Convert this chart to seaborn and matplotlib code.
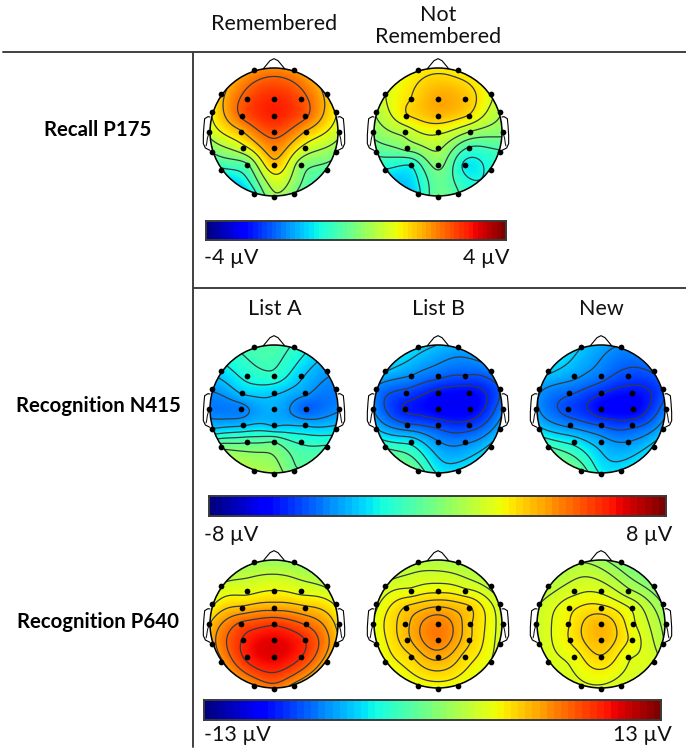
import numpy as np
import pandas as pd
import matplotlib
matplotlib.use("Agg")
import matplotlib.pyplot as plt
from matplotlib.patches import Circle
import seaborn as sns

# Electrode layout (x right, y down; head radius = 192)
ELEC_X = [-61, 61, -158, 158, -81, 0, 80, -185, 185, -95, 0, 94, -195, 195, -98, 0, 97,
          -185, 185, -94, 0, 94, -81, 0, 80, -158, 158, -61, 0, 61]
ELEC_Y = [-185, -185, -115, -115, -98, -98, -98, -60, -60, -49, -49, -49, 0, 0, 0, 0, 0,
          61, 61, 49, 49, 49, 98, 98, 98, 115, 115, 186, 196, 186]

# Microvolt values at the electrodes, same order
recall_rem = [2.0, 2.0, 1.6, 1.6, 2.6, 2.95, 2.6, 1.2, 1.2, 2.5, 3.0, 2.5, 0.7, 0.7, 1.7, 2.6, 1.7,
              -0.1, 0.1, 0.9, 2.1, 0.9, -0.2, 1.6, 0.2, -0.9, -0.4, -1.0, 0.3, -0.1]
recall_not = [1.2, 1.2, 0.9, 1.0, 1.4, 1.85, 1.65, 0.5, 0.5, 1.35, 1.7, 1.35, 0.1, 0.1, 0.6, 1.0, 0.4,
              -0.4, -0.6, 0.1, 0.5, -0.6, -0.95, 0.1, -1.1, -1.05, -0.9, -1.15, -0.2, -0.5]
n415_a = [-1.0, -1.5, -2.5, -3.5, -1.9, -1.6, -2.8, -3.6, -4.0, -2.8, -2.8, -3.5, -4.0, -3.8, -4.0, -3.2, -4.5,
          -2.8, -2.6, -3.0, -3.0, -3.0, -0.7, -0.6, -1.5, 0.0, -1.2, 1.0, 0.8, -0.4]
n415_b = [-2.5, -3.3, -2.8, -4.0, -3.8, -4.4, -4.7, -3.9, -4.6, -4.9, -5.8, -6.0, -3.7, -3.9, -5.6, -6.2, -6.2,
          -2.8, -3.2, -4.4, -4.9, -5.1, -2.3, -3.7, -3.9, -1.2, -2.6, -0.5, -2.0, -2.3]
n415_new = [-2.8, -3.8, -2.6, -4.4, -3.5, -4.2, -4.9, -3.5, -4.8, -4.4, -5.3, -5.8, -3.5, -4.0, -4.9, -6.0, -6.2,
            -2.6, -3.2, -3.9, -4.6, -4.8, -2.3, -3.3, -3.7, -1.0, -2.5, -0.5, -2.0, -2.3]
p640_a = [1.0, 0.8, 2.5, 2.0, 3.3, 3.8, 3.3, 3.5, 3.5, 5.4, 6.0, 5.4, 5.0, 4.5, 8.3, 9.2, 7.8,
          6.0, 5.5, 9.5, 10.6, 9.4, 9.8, 10.7, 9.5, 6.2, 5.7, 6.5, 7.0, 6.0]
p640_b = [1.8, 1.5, 2.6, 2.0, 3.5, 3.9, 3.5, 3.0, 2.6, 5.0, 5.8, 5.0, 3.2, 2.6, 5.4, 7.2, 5.0,
          3.2, 2.8, 5.4, 7.2, 5.0, 4.8, 6.0, 4.6, 3.4, 3.2, 3.4, 3.4, 3.4]
p640_new = [1.6, 0.2, 1.8, 0.2, 3.0, 3.1, 1.9, 2.4, 0.8, 3.8, 4.3, 3.1, 2.4, 1.2, 4.0, 5.6, 3.4,
            2.6, 1.8, 4.1, 5.5, 3.8, 3.6, 4.8, 3.4, 2.8, 2.8, 3.0, 3.0, 2.8]

row_labels = ["Recall P175", "Recognition N415", "Recognition P640"]
col_labels_recall = ["Remembered", "Not\nRemembered"]
col_labels_recog = ["List A", "List B", "New"]
scale_labels = [("-4 µV", "4 µV"), ("-8 µV", "8 µV"), ("-13 µV", "13 µV")]
scales = [4, 8, 13]

sns.set_theme(style="white")
plt.rcParams["font.family"] = ["Lato", "DejaVu Sans"]

W, H = 686, 751
fig = plt.figure(figsize=(W / 100, H / 100), dpi=100, facecolor="white")


def px_axes(x0, y0, x1, y1):
    return fig.add_axes([x0 / W, 1 - y1 / H, (x1 - x0) / W, (y1 - y0) / H])


def field(values):
    """Biharmonic spline through the electrodes, as topographic maps are drawn."""
    ex, ey, v = np.array(ELEC_X, float), np.array(ELEC_Y, float), np.array(values, float)
    g = np.linspace(-192, 192, 240)
    gx, gy = np.meshgrid(g, g)

    def green(r):
        out = np.zeros_like(r)
        m = r > 0
        out[m] = r[m] ** 2 * (np.log(r[m]) - 1)
        return out

    d = np.hypot(ex[:, None] - ex[None, :], ey[:, None] - ey[None, :])
    w = np.linalg.solve(green(d), v)
    dg = np.hypot(gx[..., None] - ex, gy[..., None] - ey)
    z = (green(dg) * w).sum(axis=-1)
    return g, np.ma.masked_where(np.hypot(gx, gy) > 192, z)


def topo(cx, cy, values, vmax):
    half = 85
    ax = px_axes(cx - half, cy - half, cx + half, cy + half)
    ax.set_xlim(-half * 3, half * 3)
    ax.set_ylim(half * 3, -half * 3)
    ax.axis("off")
    g, z = field(values)
    im = ax.imshow(z, extent=[-192, 192, 192, -192], cmap="jet", vmin=-vmax, vmax=vmax,
                   interpolation="bilinear", zorder=1)
    clip = Circle((0, 0), 192, transform=ax.transData)
    im.set_clip_path(clip)
    levels = np.linspace(z.min(), z.max(), 8)[1:-1]
    ax.contour(g, g, z, levels=levels, colors="#333b45", linewidths=0.9, linestyles="solid", zorder=2)
    ax.add_patch(Circle((0, 0), 192, fill=False, ec="black", lw=1.1, zorder=3))
    # nose
    ax.plot([-32, -12, 0, 12, 32], [-190, -214, -220, -214, -190], color="black", lw=0.8, zorder=3)
    # ears
    for s in (-1, 1):
        ax.plot(s * np.array([192, 198, 208, 210, 212, 212, 206, 192]),
                [-45, -46, -40, -20, 10, 35, 48, 55], color="black", lw=0.8, zorder=3)
        ax.plot(s * np.array([192, 196, 200, 202, 204]), [0, 5, 20, 35, 42], color="black", lw=0.7, zorder=3)
    elec = pd.DataFrame({"x": ELEC_X, "y": ELEC_Y})
    sns.scatterplot(data=elec, x="x", y="y", ax=ax, color="black", s=17, linewidth=0, zorder=4, clip_on=False)
    ax.set_xlabel("")
    ax.set_ylabel("")
    ax.set_xlim(-half * 3, half * 3)
    ax.set_ylim(half * 3, -half * 3)


def scale_bar(x0, y0, x1, y1, vmax):
    ax = px_axes(x0, y0, x1, y1)
    ramp = np.linspace(-vmax, vmax, 64)[None, :]
    sns.heatmap(ramp, ax=ax, cmap="jet", vmin=-vmax, vmax=vmax, cbar=False,
                xticklabels=False, yticklabels=False)
    ax.set_axis_on()
    for s in ax.spines.values():
        s.set_visible(True)
        s.set_color("#3a3a3a")
        s.set_linewidth(1.4)
    ax.set_xticks(np.linspace(0, 64, 11)[1:-1])
    ax.set_xticklabels([])
    ax.set_yticks([])
    ax.tick_params(axis="x", direction="in", length=2, width=1.2, color="#333333", bottom=True)


topo(274, 132, recall_rem, 4)
topo(438, 132, recall_not, 4)
topo(274, 409, n415_a, 8)
topo(438, 409, n415_b, 8)
topo(601, 409, n415_new, 8)
topo(274, 624, p640_a, 13)
topo(438, 624, p640_b, 13)
topo(601, 624, p640_new, 13)

scale_bar(206, 221, 506, 240, scales[0])
scale_bar(209, 496, 666, 516, scales[1])
scale_bar(204, 700, 661, 720, scales[2])

# overlay for rules and text, in pixel coordinates
ov = fig.add_axes([0, 0, 1, 1], zorder=10)
ov.patch.set_alpha(0)
ov.set_xlim(0, W)
ov.set_ylim(H, 0)
ov.axis("off")
line = dict(color="#404040", lw=1.4)
ov.plot([3, 686], [52, 52], **line)
ov.plot([193, 193], [52, 747], **line)
ov.plot([193, 686], [288, 288], **line)

FS = 15.5
FB = 14.7
ov.text(274.5, 24.5, col_labels_recall[0], ha="center", va="center", fontsize=FS, color="#111111")
ov.text(438, 26, col_labels_recall[1], ha="center", va="center", fontsize=FS, color="#111111", linespacing=1.1)
for x, t in zip([275, 438, 601], col_labels_recog):
    ov.text(x, 309, t, ha="center", va="center", fontsize=FS, color="#111111")
for y, xc, t in zip([130, 406, 622], [98, 98, 98], row_labels):
    ov.text(xc, y, t, ha="center", va="center", fontsize=FB, fontweight="bold", color="black")
for (lo, hi), xl, xr, y in zip(scale_labels, [204, 204, 204], [509, 672, 672], [258, 535, 735]):
    ov.text(xl, y, lo, ha="left", va="center", fontsize=FS, color="#111111")
    ov.text(xr, y, hi, ha="right", va="center", fontsize=FS, color="#111111")

fig.savefig("out.png", dpi=100, facecolor="white")
